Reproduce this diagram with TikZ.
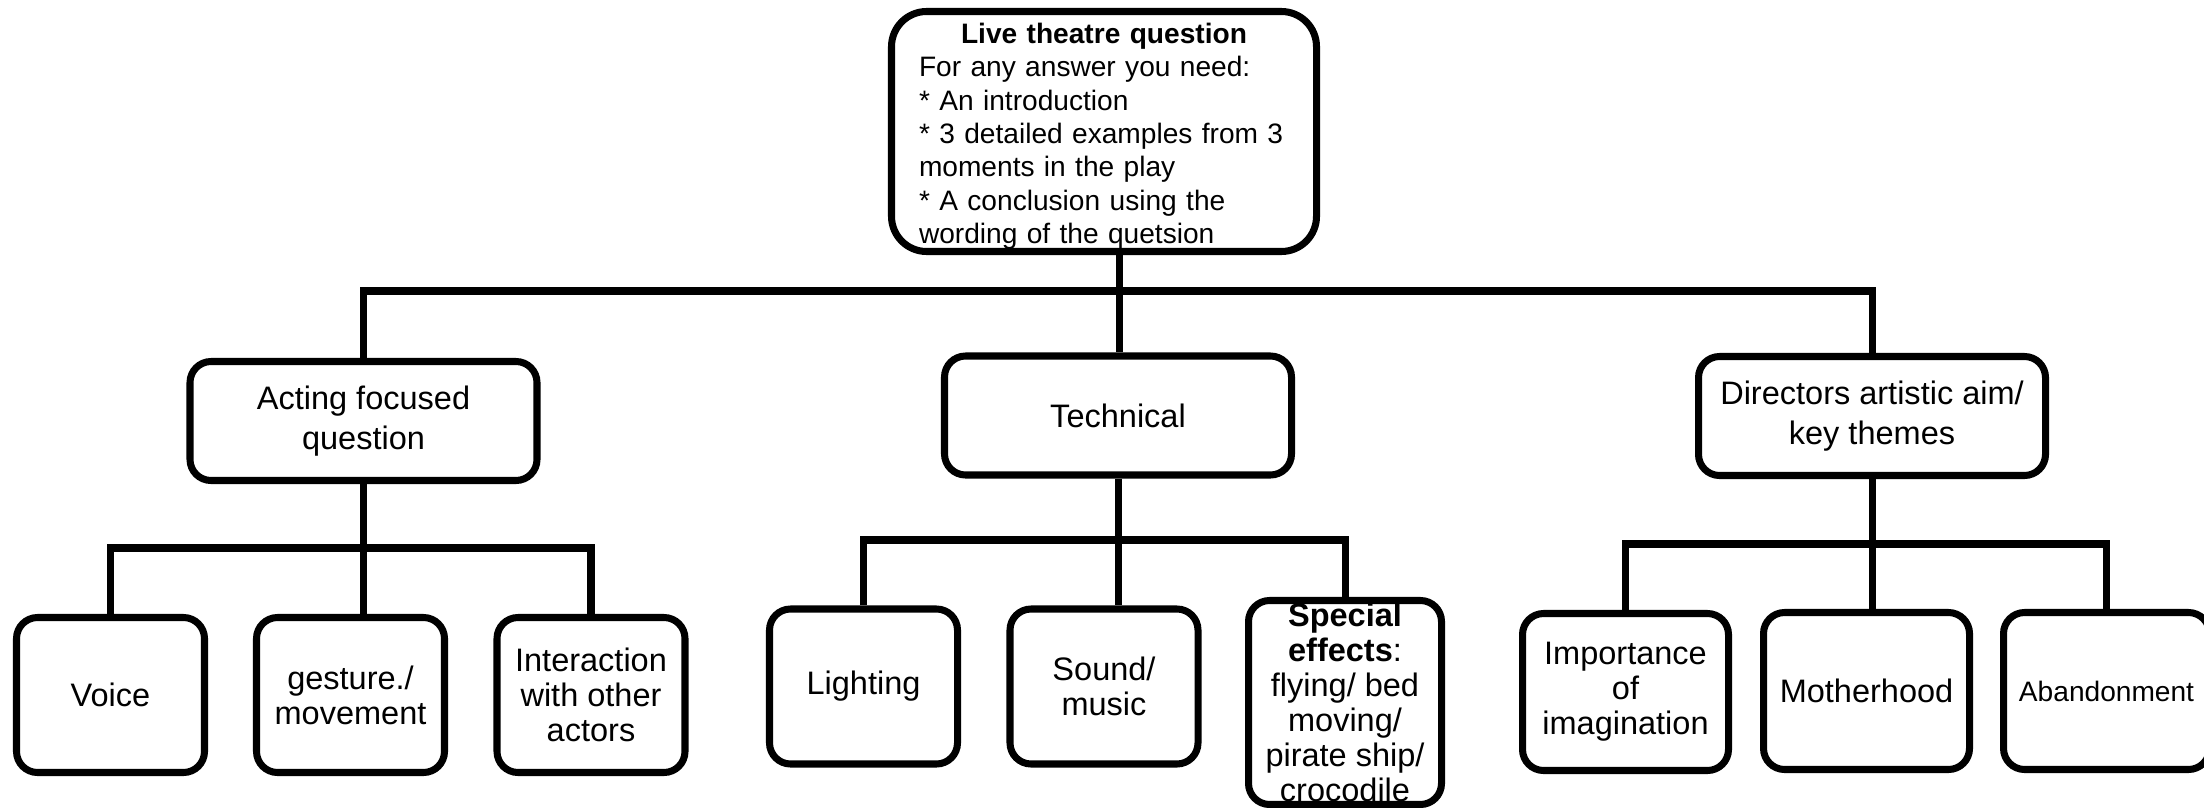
\documentclass[tikz,border=0pt]{standalone}
\usepackage{fontspec}
\setmainfont{Liberation Sans}
\begin{document}
\begin{tikzpicture}[x=0.2mm, y=-0.2mm, line width=4pt,
  box/.style={draw, rounded corners=12pt, fill=white, align=center, inner sep=2pt, font=\fontsize{18.5}{20}\selectfont},
  mainbox/.style={box, minimum width=69.4mm, minimum height=23.8mm, font=\fontsize{18.5}{22.4}\selectfont},
  leafbox/.style={box, minimum width=37.6mm, minimum height=31mm},
  themebox/.style={box, minimum width=41.2mm, minimum height=31.4mm}]
  \useasboundingbox (0,0) rectangle (2204,808);
  \node[draw, rounded corners=20pt, minimum width=85mm, minimum height=48mm, text width=74mm, inner sep=0pt, align=left, font=\fontsize{16}{19}\selectfont] (top) at (1104,131.5)
    {\rule{0pt}{17pt}\makebox[74mm]{\bfseries Live theatre question}\\ For any answer you need:\\ {*} An introduction\\ {*} 3 detailed examples from 3\\ moments in the play\\ {*} A conclusion using the\\ wording of the quetsion};
  \node[mainbox] (act) at (363.5,421) {Acting focused\\question};
  \node[mainbox] (tech) at (1118,415.5) {Technical};
  \node[mainbox] (dir) at (1872,416) {Directors artistic aim/\\key themes};
  \node[leafbox] (voice) at (110.5,695) {Voice};
  \node[leafbox] (gest) at (350.5,695) {gesture./\\movement};
  \node[leafbox] (inter) at (591,695) {Interaction\\with other\\actors};
  \node[leafbox] (light) at (863.5,686.5) {Lighting};
  \node[leafbox] (sound) at (1104,686.5) {Sound/\\music};
  \node[leafbox, minimum width=38.6mm, minimum height=40.8mm, inner sep=0pt] (fx) at (1345,702.5)
    {\textbf{Special}\\\textbf{effects}:\\flying/ bed\\moving/\\pirate ship/\\crocodile};
  \node[themebox] (imag) at (1625.5,692) {Importance\\of\\imagination};
  \node[themebox] (mother) at (1866.5,691) {Motherhood};
  \node[themebox, font=\fontsize{16}{19}\selectfont] (aband) at (2106.5,691) {Abandonment};
  \coordinate (tbar) at (1119,291);
  \coordinate (abar) at (363.5,548);
  \coordinate (cbar) at (1118,540);
  \coordinate (dbar) at (1872,544);
  \draw (top.south -| tbar) -- (tbar) -- (tech.north -| tbar);
  \draw (act.north) |- (tbar) -| (dir.north);
  \draw (act.south) -- (abar) -- (abar |- gest.north);
  \draw (voice.north) |- (abar) -| (inter.north);
  \draw (tech.south) -- (cbar) -- (cbar |- sound.north);
  \draw (light.north) |- (cbar) -| (fx.north);
  \draw (dir.south) -- (dbar) -- (dbar |- mother.north);
  \draw (imag.north) |- (dbar) -| (aband.north);
\end{tikzpicture}
\end{document}
